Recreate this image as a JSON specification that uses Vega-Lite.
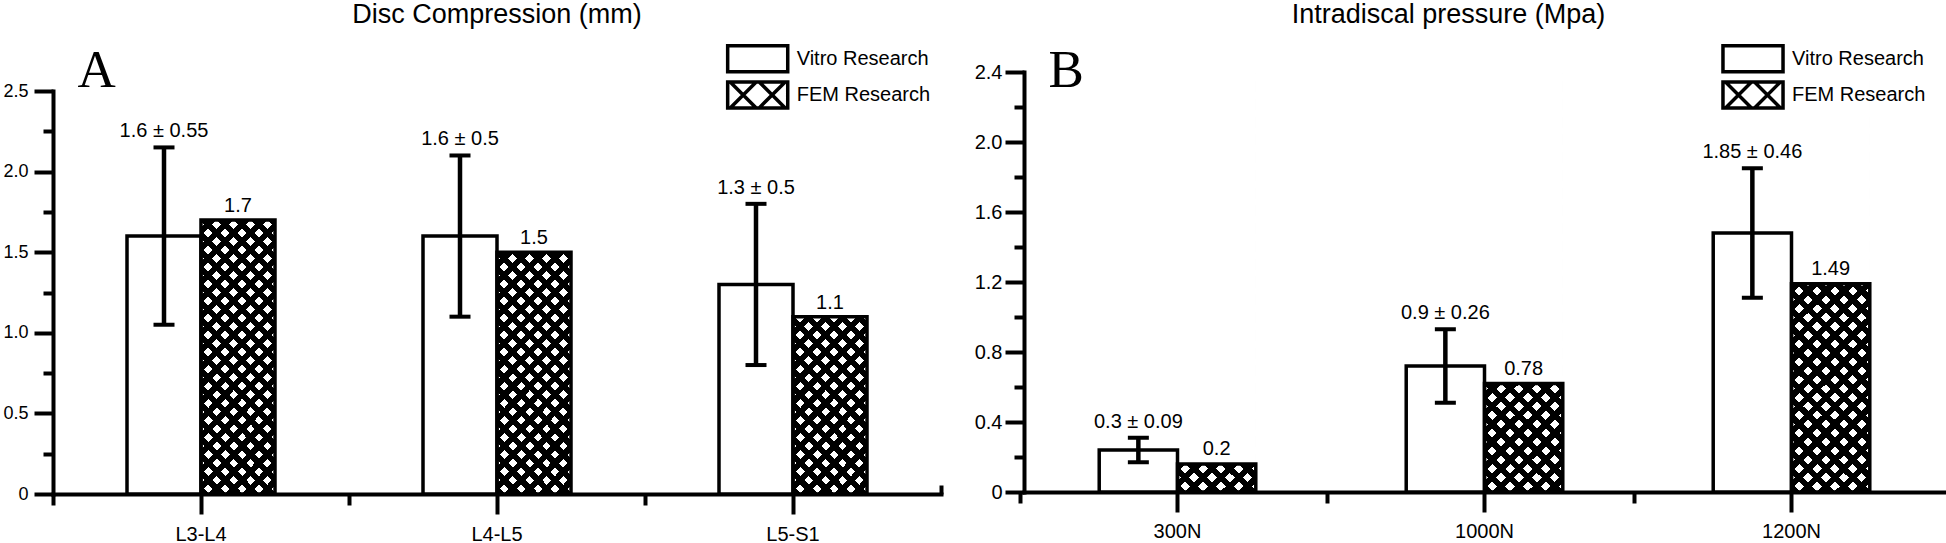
{
  "$schema": "https://vega.github.io/schema/vega-lite/v6.json",
  "background": "white",
  "padding": {"left": 2, "top": 0, "right": 0, "bottom": 0},
  "spacing": 31,
  "resolve": {
    "scale": {"x": "independent", "y": "independent", "xOffset": "independent", "shape": "independent"},
    "legend": {"shape": "independent"}
  },
  "config": {
    "font": "Liberation Sans",
    "view": {"stroke": null},
    "axis": {
      "domainColor": "black", "domainWidth": 4, "domainCap": "square",
      "tickColor": "black", "tickWidth": 4,
      "labelColor": "black", "labelFont": "Liberation Sans",
      "grid": false, "zindex": 1
    },
    "title": {"font": "Liberation Sans", "fontSize": 27, "fontWeight": "normal", "color": "black", "anchor": "middle", "frame": "group", "baseline": "alphabetic"},
    "legend": {
      "orient": "none", "title": null, "padding": 0,
      "symbolSize": 676, "symbolStrokeWidth": 3.5, "symbolFillColor": "white", "symbolStrokeColor": "black", "symbolOpacity": 1,
      "labelFontSize": 20, "labelFont": "Liberation Sans", "labelColor": "black", "labelOffset": 24, "rowPadding": -3.8
    }
  },
  "hconcat": [
    {
      "title": {"text": "Disc Compression (mm)", "dx": 0, "offset": 15},
      "width": 888,
      "height": 422,
      "data": {"values": [
        {"cat": "L3-L4", "series": "Vitro Research", "value": 1.6, "lo": 1.05, "hi": 2.15, "label": "1.6 ± 0.55"},
        {"cat": "L3-L4", "series": "FEM Research", "value": 1.7, "label": "1.7"},
        {"cat": "L4-L5", "series": "Vitro Research", "value": 1.6, "lo": 1.1, "hi": 2.1, "label": "1.6 ± 0.5"},
        {"cat": "L4-L5", "series": "FEM Research", "value": 1.5, "label": "1.5"},
        {"cat": "L5-S1", "series": "Vitro Research", "value": 1.3, "lo": 0.8, "hi": 1.8, "label": "1.3 ± 0.5"},
        {"cat": "L5-S1", "series": "FEM Research", "value": 1.1, "label": "1.1"}
      ]},
      "encoding": {
        "x": {"field": "cat", "type": "nominal", "sort": ["L3-L4", "L4-L5", "L5-S1"], "scale": {"paddingInner": 0.5, "paddingOuter": 0.25}, "axis": null},
        "xOffset": {"field": "series", "type": "nominal", "scale": {"domain": ["Vitro Research", "FEM Research"]}}
      },
      "resolve": {"axis": {"x": "independent", "y": "independent"}},
      "layer": [
        {
          "transform": [{"filter": "datum.series == 'FEM Research'"}],
          "mark": {"type": "bar", "opacity": 1, "strokeWidth": 0, "fill": {"gradient": "linear", "x1": 0, "y1": 0, "x2": 0.212, "y2": 1.1458, "stops": [
            {"offset":0,"color":"#000"},{"offset":0.01714,"color":"#000"},{"offset":0.01714,"color":"#fff"},{"offset":0.03571,"color":"#fff"},
            {"offset":0.03571,"color":"#000"},{"offset":0.05286,"color":"#000"},{"offset":0.05286,"color":"#fff"},{"offset":0.07143,"color":"#fff"},
            {"offset":0.07143,"color":"#000"},{"offset":0.08857,"color":"#000"},{"offset":0.08857,"color":"#fff"},{"offset":0.10714,"color":"#fff"},
            {"offset":0.10714,"color":"#000"},{"offset":0.12429,"color":"#000"},{"offset":0.12429,"color":"#fff"},{"offset":0.14286,"color":"#fff"},
            {"offset":0.14286,"color":"#000"},{"offset":0.16,"color":"#000"},{"offset":0.16,"color":"#fff"},{"offset":0.17857,"color":"#fff"},
            {"offset":0.17857,"color":"#000"},{"offset":0.19571,"color":"#000"},{"offset":0.19571,"color":"#fff"},{"offset":0.21429,"color":"#fff"},
            {"offset":0.21429,"color":"#000"},{"offset":0.23143,"color":"#000"},{"offset":0.23143,"color":"#fff"},{"offset":0.25,"color":"#fff"},
            {"offset":0.25,"color":"#000"},{"offset":0.26714,"color":"#000"},{"offset":0.26714,"color":"#fff"},{"offset":0.28571,"color":"#fff"},
            {"offset":0.28571,"color":"#000"},{"offset":0.30286,"color":"#000"},{"offset":0.30286,"color":"#fff"},{"offset":0.32143,"color":"#fff"},
            {"offset":0.32143,"color":"#000"},{"offset":0.33857,"color":"#000"},{"offset":0.33857,"color":"#fff"},{"offset":0.35714,"color":"#fff"},
            {"offset":0.35714,"color":"#000"},{"offset":0.37429,"color":"#000"},{"offset":0.37429,"color":"#fff"},{"offset":0.39286,"color":"#fff"},
            {"offset":0.39286,"color":"#000"},{"offset":0.41,"color":"#000"},{"offset":0.41,"color":"#fff"},{"offset":0.42857,"color":"#fff"},
            {"offset":0.42857,"color":"#000"},{"offset":0.44571,"color":"#000"},{"offset":0.44571,"color":"#fff"},{"offset":0.46429,"color":"#fff"},
            {"offset":0.46429,"color":"#000"},{"offset":0.48143,"color":"#000"},{"offset":0.48143,"color":"#fff"},{"offset":0.5,"color":"#fff"},
            {"offset":0.5,"color":"#000"},{"offset":0.51714,"color":"#000"},{"offset":0.51714,"color":"#fff"},{"offset":0.53571,"color":"#fff"},
            {"offset":0.53571,"color":"#000"},{"offset":0.55286,"color":"#000"},{"offset":0.55286,"color":"#fff"},{"offset":0.57143,"color":"#fff"},
            {"offset":0.57143,"color":"#000"},{"offset":0.58857,"color":"#000"},{"offset":0.58857,"color":"#fff"},{"offset":0.60714,"color":"#fff"},
            {"offset":0.60714,"color":"#000"},{"offset":0.62429,"color":"#000"},{"offset":0.62429,"color":"#fff"},{"offset":0.64286,"color":"#fff"},
            {"offset":0.64286,"color":"#000"},{"offset":0.66,"color":"#000"},{"offset":0.66,"color":"#fff"},{"offset":0.67857,"color":"#fff"},
            {"offset":0.67857,"color":"#000"},{"offset":0.69571,"color":"#000"},{"offset":0.69571,"color":"#fff"},{"offset":0.71429,"color":"#fff"},
            {"offset":0.71429,"color":"#000"},{"offset":0.73143,"color":"#000"},{"offset":0.73143,"color":"#fff"},{"offset":0.75,"color":"#fff"},
            {"offset":0.75,"color":"#000"},{"offset":0.76714,"color":"#000"},{"offset":0.76714,"color":"#fff"},{"offset":0.78571,"color":"#fff"},
            {"offset":0.78571,"color":"#000"},{"offset":0.80286,"color":"#000"},{"offset":0.80286,"color":"#fff"},{"offset":0.82143,"color":"#fff"},
            {"offset":0.82143,"color":"#000"},{"offset":0.83857,"color":"#000"},{"offset":0.83857,"color":"#fff"},{"offset":0.85714,"color":"#fff"},
            {"offset":0.85714,"color":"#000"},{"offset":0.87429,"color":"#000"},{"offset":0.87429,"color":"#fff"},{"offset":0.89286,"color":"#fff"},
            {"offset":0.89286,"color":"#000"},{"offset":0.91,"color":"#000"},{"offset":0.91,"color":"#fff"},{"offset":0.92857,"color":"#fff"},
            {"offset":0.92857,"color":"#000"},{"offset":0.94571,"color":"#000"},{"offset":0.94571,"color":"#fff"},{"offset":0.96429,"color":"#fff"},
            {"offset":0.96429,"color":"#000"},{"offset":0.98143,"color":"#000"},{"offset":0.98143,"color":"#fff"},{"offset":1,"color":"#fff"}
          ]}},
          "encoding": {
            "x": {"field": "cat", "type": "nominal", "sort": ["L3-L4", "L4-L5", "L5-S1"],
              "axis": {"orient": "bottom", "title": null, "labelAngle": 0, "tickSize": 20, "labelFontSize": 20, "labelPadding": 10}},
            "y": {"datum": 0, "type": "quantitative", "scale": {"domain": [0, 2.5], "range": [422, 19], "nice": false},
              "axis": {"orient": "left", "values": [0, 0.5, 1, 1.5, 2, 2.5], "labelExpr": "datum.value == 0 ? '0' : format(datum.value, '.1f')",
                "tickSize": 19, "labelFontSize": 18, "labelPadding": 6,
                "title": "A", "titleAngle": 0, "titleFont": "Liberation Serif", "titleFontSize": 53, "titleFontWeight": "normal",
                "titleColor": "black", "titleAlign": "left", "titleBaseline": "alphabetic", "titleX": 24, "titleY": 14}},
            "y2": {"datum": 2.5}
          }
        },
        {
          "transform": [{"filter": "datum.series == 'FEM Research'"}],
          "mark": {"type": "bar", "opacity": 1, "strokeWidth": 0, "fill": {"gradient": "linear", "x1": 0, "y1": 1, "x2": 0.212, "y2": -0.1458, "stops": [
            {"offset":0,"color":"#000"},{"offset":0.01714,"color":"#000"},{"offset":0.01714,"color":"transparent"},{"offset":0.03571,"color":"transparent"},
            {"offset":0.03571,"color":"#000"},{"offset":0.05286,"color":"#000"},{"offset":0.05286,"color":"transparent"},{"offset":0.07143,"color":"transparent"},
            {"offset":0.07143,"color":"#000"},{"offset":0.08857,"color":"#000"},{"offset":0.08857,"color":"transparent"},{"offset":0.10714,"color":"transparent"},
            {"offset":0.10714,"color":"#000"},{"offset":0.12429,"color":"#000"},{"offset":0.12429,"color":"transparent"},{"offset":0.14286,"color":"transparent"},
            {"offset":0.14286,"color":"#000"},{"offset":0.16,"color":"#000"},{"offset":0.16,"color":"transparent"},{"offset":0.17857,"color":"transparent"},
            {"offset":0.17857,"color":"#000"},{"offset":0.19571,"color":"#000"},{"offset":0.19571,"color":"transparent"},{"offset":0.21429,"color":"transparent"},
            {"offset":0.21429,"color":"#000"},{"offset":0.23143,"color":"#000"},{"offset":0.23143,"color":"transparent"},{"offset":0.25,"color":"transparent"},
            {"offset":0.25,"color":"#000"},{"offset":0.26714,"color":"#000"},{"offset":0.26714,"color":"transparent"},{"offset":0.28571,"color":"transparent"},
            {"offset":0.28571,"color":"#000"},{"offset":0.30286,"color":"#000"},{"offset":0.30286,"color":"transparent"},{"offset":0.32143,"color":"transparent"},
            {"offset":0.32143,"color":"#000"},{"offset":0.33857,"color":"#000"},{"offset":0.33857,"color":"transparent"},{"offset":0.35714,"color":"transparent"},
            {"offset":0.35714,"color":"#000"},{"offset":0.37429,"color":"#000"},{"offset":0.37429,"color":"transparent"},{"offset":0.39286,"color":"transparent"},
            {"offset":0.39286,"color":"#000"},{"offset":0.41,"color":"#000"},{"offset":0.41,"color":"transparent"},{"offset":0.42857,"color":"transparent"},
            {"offset":0.42857,"color":"#000"},{"offset":0.44571,"color":"#000"},{"offset":0.44571,"color":"transparent"},{"offset":0.46429,"color":"transparent"},
            {"offset":0.46429,"color":"#000"},{"offset":0.48143,"color":"#000"},{"offset":0.48143,"color":"transparent"},{"offset":0.5,"color":"transparent"},
            {"offset":0.5,"color":"#000"},{"offset":0.51714,"color":"#000"},{"offset":0.51714,"color":"transparent"},{"offset":0.53571,"color":"transparent"},
            {"offset":0.53571,"color":"#000"},{"offset":0.55286,"color":"#000"},{"offset":0.55286,"color":"transparent"},{"offset":0.57143,"color":"transparent"},
            {"offset":0.57143,"color":"#000"},{"offset":0.58857,"color":"#000"},{"offset":0.58857,"color":"transparent"},{"offset":0.60714,"color":"transparent"},
            {"offset":0.60714,"color":"#000"},{"offset":0.62429,"color":"#000"},{"offset":0.62429,"color":"transparent"},{"offset":0.64286,"color":"transparent"},
            {"offset":0.64286,"color":"#000"},{"offset":0.66,"color":"#000"},{"offset":0.66,"color":"transparent"},{"offset":0.67857,"color":"transparent"},
            {"offset":0.67857,"color":"#000"},{"offset":0.69571,"color":"#000"},{"offset":0.69571,"color":"transparent"},{"offset":0.71429,"color":"transparent"},
            {"offset":0.71429,"color":"#000"},{"offset":0.73143,"color":"#000"},{"offset":0.73143,"color":"transparent"},{"offset":0.75,"color":"transparent"},
            {"offset":0.75,"color":"#000"},{"offset":0.76714,"color":"#000"},{"offset":0.76714,"color":"transparent"},{"offset":0.78571,"color":"transparent"},
            {"offset":0.78571,"color":"#000"},{"offset":0.80286,"color":"#000"},{"offset":0.80286,"color":"transparent"},{"offset":0.82143,"color":"transparent"},
            {"offset":0.82143,"color":"#000"},{"offset":0.83857,"color":"#000"},{"offset":0.83857,"color":"transparent"},{"offset":0.85714,"color":"transparent"},
            {"offset":0.85714,"color":"#000"},{"offset":0.87429,"color":"#000"},{"offset":0.87429,"color":"transparent"},{"offset":0.89286,"color":"transparent"},
            {"offset":0.89286,"color":"#000"},{"offset":0.91,"color":"#000"},{"offset":0.91,"color":"transparent"},{"offset":0.92857,"color":"transparent"},
            {"offset":0.92857,"color":"#000"},{"offset":0.94571,"color":"#000"},{"offset":0.94571,"color":"transparent"},{"offset":0.96429,"color":"transparent"},
            {"offset":0.96429,"color":"#000"},{"offset":0.98143,"color":"#000"},{"offset":0.98143,"color":"transparent"},{"offset":1,"color":"transparent"}
          ]}},
          "encoding": {
            "x": {"field": "cat", "type": "nominal", "sort": ["L3-L4", "L4-L5", "L5-S1"],
              "axis": {"orient": "bottom", "title": null, "labels": false, "domain": false, "bandPosition": -0.5, "tickSize": 11}},
            "y": {"datum": 0, "type": "quantitative",
              "axis": {"orient": "left", "values": [0.25, 0.75, 1.25, 1.75, 2.25], "labels": false, "domain": false, "tickSize": 10, "title": null}},
            "y2": {"datum": 2.5}
          }
        },
        {
          "transform": [{"filter": "datum.series == 'FEM Research'"}],
          "mark": {"type": "bar", "fill": "white", "stroke": "white", "strokeWidth": 1.5, "opacity": 1},
          "encoding": {
            "x": {"field": "cat", "type": "nominal", "sort": ["L3-L4", "L4-L5", "L5-S1"],
              "axis": {"orient": "bottom", "title": null, "labels": false, "domain": false, "values": ["L5-S1"], "bandPosition": 1.5, "tickSize": -9}},
            "y": {"field": "value", "type": "quantitative", "axis": null},
            "y2": {"datum": 2.5}
          }
        },
        {
          "transform": [{"filter": "datum.series == 'Vitro Research'"}],
          "mark": {"type": "bar", "fill": "white", "stroke": "black", "strokeWidth": 3.5, "opacity": 1},
          "encoding": {"y": {"field": "value", "type": "quantitative", "stack": null, "axis": null}}
        },
        {
          "transform": [{"filter": "datum.series == 'FEM Research'"}],
          "mark": {"type": "bar", "filled": false, "stroke": "black", "strokeWidth": 3.5, "opacity": 1},
          "encoding": {"y": {"field": "value", "type": "quantitative", "stack": null, "axis": null}}
        },
        {
          "transform": [{"filter": "datum.series == 'Vitro Research'"}],
          "mark": {"type": "rule", "color": "black", "strokeWidth": 4.5, "opacity": 1},
          "encoding": {"y": {"field": "lo", "type": "quantitative", "axis": null}, "y2": {"field": "hi"}}
        },
        {
          "transform": [{"filter": "datum.series == 'Vitro Research'"}],
          "mark": {"type": "tick", "orient": "horizontal", "color": "black", "size": 21, "thickness": 4, "opacity": 1},
          "encoding": {"y": {"field": "hi", "type": "quantitative", "axis": null}}
        },
        {
          "transform": [{"filter": "datum.series == 'Vitro Research'"}],
          "mark": {"type": "tick", "orient": "horizontal", "color": "black", "size": 21, "thickness": 4, "opacity": 1},
          "encoding": {"y": {"field": "lo", "type": "quantitative", "axis": null}}
        },
        {
          "transform": [{"filter": "datum.series == 'Vitro Research'"}],
          "mark": {"type": "text", "fontSize": 20, "dy": -10, "baseline": "alphabetic", "color": "black", "font": "Liberation Sans"},
          "encoding": {"y": {"field": "hi", "type": "quantitative", "axis": null}, "text": {"field": "label"}}
        },
        {
          "transform": [{"filter": "datum.series == 'FEM Research'"}],
          "mark": {"type": "text", "fontSize": 20, "dy": -8, "baseline": "alphabetic", "color": "black", "font": "Liberation Sans"},
          "encoding": {"y": {"field": "value", "type": "quantitative", "axis": null}, "text": {"field": "label"}}
        },
        {
          "transform": [{"filter": "false"}],
          "mark": {"type": "point", "filled": false, "stroke": "black", "strokeWidth": 3.5, "opacity": 1},
          "encoding": {
            "shape": {"field": "series", "type": "nominal",
              "scale": {"domain": ["Vitro Research", "FEM Research"],
                "range": ["M-2.31,-1H2.31V1H-2.31Z", "M-2.31,-1H2.31V1H-2.31Z M-2.115,-1L-0.115,1 M-0.115,-1L-2.115,1 M0.115,-1L2.115,1 M2.115,-1L0.115,1"]},
              "legend": {"legendX": 689.7, "legendY": -28.3,
                "encode": {"symbols": {"update": {"fill": {"value": "white"}, "stroke": {"value": "black"}, "strokeWidth": {"value": 3.5}, "opacity": {"value": 1}}}}}}
          }
        }
      ]
    },
    {
      "title": {"text": "Intradiscal pressure (Mpa)", "dx": -36, "offset": 15},
      "width": 921,
      "height": 420,
      "data": {"values": [
        {"cat": "300N", "series": "Vitro Research", "value": 0.24, "lo": 0.17, "hi": 0.31, "label": "0.3 ± 0.09"},
        {"cat": "300N", "series": "FEM Research", "value": 0.16, "label": "0.2"},
        {"cat": "1000N", "series": "Vitro Research", "value": 0.72, "lo": 0.51, "hi": 0.93, "label": "0.9 ± 0.26"},
        {"cat": "1000N", "series": "FEM Research", "value": 0.62, "label": "0.78"},
        {"cat": "1200N", "series": "Vitro Research", "value": 1.48, "lo": 1.11, "hi": 1.85, "label": "1.85 ± 0.46"},
        {"cat": "1200N", "series": "FEM Research", "value": 1.19, "label": "1.49"}
      ]},
      "encoding": {
        "x": {"field": "cat", "type": "nominal", "sort": ["300N", "1000N", "1200N"], "scale": {"paddingInner": 0.49, "paddingOuter": 0.245}, "axis": null},
        "xOffset": {"field": "series", "type": "nominal", "scale": {"domain": ["Vitro Research", "FEM Research"]}}
      },
      "resolve": {"axis": {"x": "independent", "y": "independent"}},
      "layer": [
        {
          "transform": [{"filter": "datum.series == 'FEM Research'"}],
          "mark": {"type": "bar", "opacity": 1, "strokeWidth": 0, "fill": {"gradient": "linear", "x1": 0, "y1": 0, "x2": 0.212, "y2": 1.1458, "stops": [
            {"offset":0,"color":"#000"},{"offset":0.01714,"color":"#000"},{"offset":0.01714,"color":"#fff"},{"offset":0.03571,"color":"#fff"},
            {"offset":0.03571,"color":"#000"},{"offset":0.05286,"color":"#000"},{"offset":0.05286,"color":"#fff"},{"offset":0.07143,"color":"#fff"},
            {"offset":0.07143,"color":"#000"},{"offset":0.08857,"color":"#000"},{"offset":0.08857,"color":"#fff"},{"offset":0.10714,"color":"#fff"},
            {"offset":0.10714,"color":"#000"},{"offset":0.12429,"color":"#000"},{"offset":0.12429,"color":"#fff"},{"offset":0.14286,"color":"#fff"},
            {"offset":0.14286,"color":"#000"},{"offset":0.16,"color":"#000"},{"offset":0.16,"color":"#fff"},{"offset":0.17857,"color":"#fff"},
            {"offset":0.17857,"color":"#000"},{"offset":0.19571,"color":"#000"},{"offset":0.19571,"color":"#fff"},{"offset":0.21429,"color":"#fff"},
            {"offset":0.21429,"color":"#000"},{"offset":0.23143,"color":"#000"},{"offset":0.23143,"color":"#fff"},{"offset":0.25,"color":"#fff"},
            {"offset":0.25,"color":"#000"},{"offset":0.26714,"color":"#000"},{"offset":0.26714,"color":"#fff"},{"offset":0.28571,"color":"#fff"},
            {"offset":0.28571,"color":"#000"},{"offset":0.30286,"color":"#000"},{"offset":0.30286,"color":"#fff"},{"offset":0.32143,"color":"#fff"},
            {"offset":0.32143,"color":"#000"},{"offset":0.33857,"color":"#000"},{"offset":0.33857,"color":"#fff"},{"offset":0.35714,"color":"#fff"},
            {"offset":0.35714,"color":"#000"},{"offset":0.37429,"color":"#000"},{"offset":0.37429,"color":"#fff"},{"offset":0.39286,"color":"#fff"},
            {"offset":0.39286,"color":"#000"},{"offset":0.41,"color":"#000"},{"offset":0.41,"color":"#fff"},{"offset":0.42857,"color":"#fff"},
            {"offset":0.42857,"color":"#000"},{"offset":0.44571,"color":"#000"},{"offset":0.44571,"color":"#fff"},{"offset":0.46429,"color":"#fff"},
            {"offset":0.46429,"color":"#000"},{"offset":0.48143,"color":"#000"},{"offset":0.48143,"color":"#fff"},{"offset":0.5,"color":"#fff"},
            {"offset":0.5,"color":"#000"},{"offset":0.51714,"color":"#000"},{"offset":0.51714,"color":"#fff"},{"offset":0.53571,"color":"#fff"},
            {"offset":0.53571,"color":"#000"},{"offset":0.55286,"color":"#000"},{"offset":0.55286,"color":"#fff"},{"offset":0.57143,"color":"#fff"},
            {"offset":0.57143,"color":"#000"},{"offset":0.58857,"color":"#000"},{"offset":0.58857,"color":"#fff"},{"offset":0.60714,"color":"#fff"},
            {"offset":0.60714,"color":"#000"},{"offset":0.62429,"color":"#000"},{"offset":0.62429,"color":"#fff"},{"offset":0.64286,"color":"#fff"},
            {"offset":0.64286,"color":"#000"},{"offset":0.66,"color":"#000"},{"offset":0.66,"color":"#fff"},{"offset":0.67857,"color":"#fff"},
            {"offset":0.67857,"color":"#000"},{"offset":0.69571,"color":"#000"},{"offset":0.69571,"color":"#fff"},{"offset":0.71429,"color":"#fff"},
            {"offset":0.71429,"color":"#000"},{"offset":0.73143,"color":"#000"},{"offset":0.73143,"color":"#fff"},{"offset":0.75,"color":"#fff"},
            {"offset":0.75,"color":"#000"},{"offset":0.76714,"color":"#000"},{"offset":0.76714,"color":"#fff"},{"offset":0.78571,"color":"#fff"},
            {"offset":0.78571,"color":"#000"},{"offset":0.80286,"color":"#000"},{"offset":0.80286,"color":"#fff"},{"offset":0.82143,"color":"#fff"},
            {"offset":0.82143,"color":"#000"},{"offset":0.83857,"color":"#000"},{"offset":0.83857,"color":"#fff"},{"offset":0.85714,"color":"#fff"},
            {"offset":0.85714,"color":"#000"},{"offset":0.87429,"color":"#000"},{"offset":0.87429,"color":"#fff"},{"offset":0.89286,"color":"#fff"},
            {"offset":0.89286,"color":"#000"},{"offset":0.91,"color":"#000"},{"offset":0.91,"color":"#fff"},{"offset":0.92857,"color":"#fff"},
            {"offset":0.92857,"color":"#000"},{"offset":0.94571,"color":"#000"},{"offset":0.94571,"color":"#fff"},{"offset":0.96429,"color":"#fff"},
            {"offset":0.96429,"color":"#000"},{"offset":0.98143,"color":"#000"},{"offset":0.98143,"color":"#fff"},{"offset":1,"color":"#fff"}
          ]}},
          "encoding": {
            "x": {"field": "cat", "type": "nominal", "sort": ["300N", "1000N", "1200N"],
              "axis": {"orient": "bottom", "title": null, "labelAngle": 0, "tickSize": 20, "labelFontSize": 20, "labelPadding": 9}},
            "y": {"datum": 0, "type": "quantitative", "scale": {"domain": [0, 2.4], "nice": false},
              "axis": {"orient": "left", "values": [0, 0.4, 0.8, 1.2, 1.6, 2.0, 2.4], "labelExpr": "datum.value == 0 ? '0' : format(datum.value, '.1f')",
                "tickSize": 19, "labelFontSize": 20, "labelPadding": 3,
                "title": "B", "titleAngle": 0, "titleFont": "Liberation Serif", "titleFontSize": 53, "titleFontWeight": "normal",
                "titleColor": "black", "titleAlign": "left", "titleBaseline": "alphabetic", "titleX": 24, "titleY": 14}},
            "y2": {"datum": 2.4}
          }
        },
        {
          "transform": [{"filter": "datum.series == 'FEM Research'"}],
          "mark": {"type": "bar", "opacity": 1, "strokeWidth": 0, "fill": {"gradient": "linear", "x1": 0, "y1": 1, "x2": 0.212, "y2": -0.1458, "stops": [
            {"offset":0,"color":"#000"},{"offset":0.01714,"color":"#000"},{"offset":0.01714,"color":"transparent"},{"offset":0.03571,"color":"transparent"},
            {"offset":0.03571,"color":"#000"},{"offset":0.05286,"color":"#000"},{"offset":0.05286,"color":"transparent"},{"offset":0.07143,"color":"transparent"},
            {"offset":0.07143,"color":"#000"},{"offset":0.08857,"color":"#000"},{"offset":0.08857,"color":"transparent"},{"offset":0.10714,"color":"transparent"},
            {"offset":0.10714,"color":"#000"},{"offset":0.12429,"color":"#000"},{"offset":0.12429,"color":"transparent"},{"offset":0.14286,"color":"transparent"},
            {"offset":0.14286,"color":"#000"},{"offset":0.16,"color":"#000"},{"offset":0.16,"color":"transparent"},{"offset":0.17857,"color":"transparent"},
            {"offset":0.17857,"color":"#000"},{"offset":0.19571,"color":"#000"},{"offset":0.19571,"color":"transparent"},{"offset":0.21429,"color":"transparent"},
            {"offset":0.21429,"color":"#000"},{"offset":0.23143,"color":"#000"},{"offset":0.23143,"color":"transparent"},{"offset":0.25,"color":"transparent"},
            {"offset":0.25,"color":"#000"},{"offset":0.26714,"color":"#000"},{"offset":0.26714,"color":"transparent"},{"offset":0.28571,"color":"transparent"},
            {"offset":0.28571,"color":"#000"},{"offset":0.30286,"color":"#000"},{"offset":0.30286,"color":"transparent"},{"offset":0.32143,"color":"transparent"},
            {"offset":0.32143,"color":"#000"},{"offset":0.33857,"color":"#000"},{"offset":0.33857,"color":"transparent"},{"offset":0.35714,"color":"transparent"},
            {"offset":0.35714,"color":"#000"},{"offset":0.37429,"color":"#000"},{"offset":0.37429,"color":"transparent"},{"offset":0.39286,"color":"transparent"},
            {"offset":0.39286,"color":"#000"},{"offset":0.41,"color":"#000"},{"offset":0.41,"color":"transparent"},{"offset":0.42857,"color":"transparent"},
            {"offset":0.42857,"color":"#000"},{"offset":0.44571,"color":"#000"},{"offset":0.44571,"color":"transparent"},{"offset":0.46429,"color":"transparent"},
            {"offset":0.46429,"color":"#000"},{"offset":0.48143,"color":"#000"},{"offset":0.48143,"color":"transparent"},{"offset":0.5,"color":"transparent"},
            {"offset":0.5,"color":"#000"},{"offset":0.51714,"color":"#000"},{"offset":0.51714,"color":"transparent"},{"offset":0.53571,"color":"transparent"},
            {"offset":0.53571,"color":"#000"},{"offset":0.55286,"color":"#000"},{"offset":0.55286,"color":"transparent"},{"offset":0.57143,"color":"transparent"},
            {"offset":0.57143,"color":"#000"},{"offset":0.58857,"color":"#000"},{"offset":0.58857,"color":"transparent"},{"offset":0.60714,"color":"transparent"},
            {"offset":0.60714,"color":"#000"},{"offset":0.62429,"color":"#000"},{"offset":0.62429,"color":"transparent"},{"offset":0.64286,"color":"transparent"},
            {"offset":0.64286,"color":"#000"},{"offset":0.66,"color":"#000"},{"offset":0.66,"color":"transparent"},{"offset":0.67857,"color":"transparent"},
            {"offset":0.67857,"color":"#000"},{"offset":0.69571,"color":"#000"},{"offset":0.69571,"color":"transparent"},{"offset":0.71429,"color":"transparent"},
            {"offset":0.71429,"color":"#000"},{"offset":0.73143,"color":"#000"},{"offset":0.73143,"color":"transparent"},{"offset":0.75,"color":"transparent"},
            {"offset":0.75,"color":"#000"},{"offset":0.76714,"color":"#000"},{"offset":0.76714,"color":"transparent"},{"offset":0.78571,"color":"transparent"},
            {"offset":0.78571,"color":"#000"},{"offset":0.80286,"color":"#000"},{"offset":0.80286,"color":"transparent"},{"offset":0.82143,"color":"transparent"},
            {"offset":0.82143,"color":"#000"},{"offset":0.83857,"color":"#000"},{"offset":0.83857,"color":"transparent"},{"offset":0.85714,"color":"transparent"},
            {"offset":0.85714,"color":"#000"},{"offset":0.87429,"color":"#000"},{"offset":0.87429,"color":"transparent"},{"offset":0.89286,"color":"transparent"},
            {"offset":0.89286,"color":"#000"},{"offset":0.91,"color":"#000"},{"offset":0.91,"color":"transparent"},{"offset":0.92857,"color":"transparent"},
            {"offset":0.92857,"color":"#000"},{"offset":0.94571,"color":"#000"},{"offset":0.94571,"color":"transparent"},{"offset":0.96429,"color":"transparent"},
            {"offset":0.96429,"color":"#000"},{"offset":0.98143,"color":"#000"},{"offset":0.98143,"color":"transparent"},{"offset":1,"color":"transparent"}
          ]}},
          "encoding": {
            "x": {"field": "cat", "type": "nominal", "sort": ["300N", "1000N", "1200N"],
              "axis": {"orient": "bottom", "title": null, "labels": false, "domain": false, "bandPosition": -0.5, "tickSize": 11}},
            "y": {"datum": 0, "type": "quantitative",
              "axis": {"orient": "left", "values": [0.2, 0.6, 1.0, 1.4, 1.8, 2.2], "labels": false, "domain": false, "tickSize": 10, "title": null}},
            "y2": {"datum": 2.4}
          }
        },
        {
          "transform": [{"filter": "datum.series == 'FEM Research'"}],
          "mark": {"type": "bar", "fill": "white", "stroke": "white", "strokeWidth": 1.5, "opacity": 1},
          "encoding": {
            "x": {"field": "cat", "type": "nominal", "sort": ["300N", "1000N", "1200N"],
              "axis": {"orient": "bottom", "title": null, "labels": false, "domain": false, "values": ["1200N"], "bandPosition": 1.5, "tickSize": -9}},
            "y": {"field": "value", "type": "quantitative", "axis": null},
            "y2": {"datum": 2.4}
          }
        },
        {
          "transform": [{"filter": "datum.series == 'Vitro Research'"}],
          "mark": {"type": "bar", "fill": "white", "stroke": "black", "strokeWidth": 3.5, "opacity": 1},
          "encoding": {"y": {"field": "value", "type": "quantitative", "stack": null, "axis": null}}
        },
        {
          "transform": [{"filter": "datum.series == 'FEM Research'"}],
          "mark": {"type": "bar", "filled": false, "stroke": "black", "strokeWidth": 3.5, "opacity": 1},
          "encoding": {"y": {"field": "value", "type": "quantitative", "stack": null, "axis": null}}
        },
        {
          "transform": [{"filter": "datum.series == 'Vitro Research'"}],
          "mark": {"type": "rule", "color": "black", "strokeWidth": 4.5, "opacity": 1},
          "encoding": {"y": {"field": "lo", "type": "quantitative", "axis": null}, "y2": {"field": "hi"}}
        },
        {
          "transform": [{"filter": "datum.series == 'Vitro Research'"}],
          "mark": {"type": "tick", "orient": "horizontal", "color": "black", "size": 21, "thickness": 4, "opacity": 1},
          "encoding": {"y": {"field": "hi", "type": "quantitative", "axis": null}}
        },
        {
          "transform": [{"filter": "datum.series == 'Vitro Research'"}],
          "mark": {"type": "tick", "orient": "horizontal", "color": "black", "size": 21, "thickness": 4, "opacity": 1},
          "encoding": {"y": {"field": "lo", "type": "quantitative", "axis": null}}
        },
        {
          "transform": [{"filter": "datum.series == 'Vitro Research'"}],
          "mark": {"type": "text", "fontSize": 20, "dy": -10, "baseline": "alphabetic", "color": "black", "font": "Liberation Sans"},
          "encoding": {"y": {"field": "hi", "type": "quantitative", "axis": null}, "text": {"field": "label"}}
        },
        {
          "transform": [{"filter": "datum.series == 'FEM Research'"}],
          "mark": {"type": "text", "fontSize": 20, "dy": -9, "baseline": "alphabetic", "color": "black", "font": "Liberation Sans"},
          "encoding": {"y": {"field": "value", "type": "quantitative", "axis": null}, "text": {"field": "label"}}
        },
        {
          "transform": [{"filter": "false"}],
          "mark": {"type": "point", "filled": false, "stroke": "black", "strokeWidth": 3.5, "opacity": 1},
          "encoding": {
            "shape": {"field": "series", "type": "nominal",
              "scale": {"domain": ["Vitro Research", "FEM Research"],
                "range": ["M-2.31,-1H2.31V1H-2.31Z", "M-2.31,-1H2.31V1H-2.31Z M-2.115,-1L-0.115,1 M-0.115,-1L-2.115,1 M0.115,-1L2.115,1 M2.115,-1L0.115,1"]},
              "legend": {"legendX": 714, "legendY": -28.3,
                "encode": {"symbols": {"update": {"fill": {"value": "white"}, "stroke": {"value": "black"}, "strokeWidth": {"value": 3.5}, "opacity": {"value": 1}}}}}}
          }
        }
      ]
    }
  ]
}
